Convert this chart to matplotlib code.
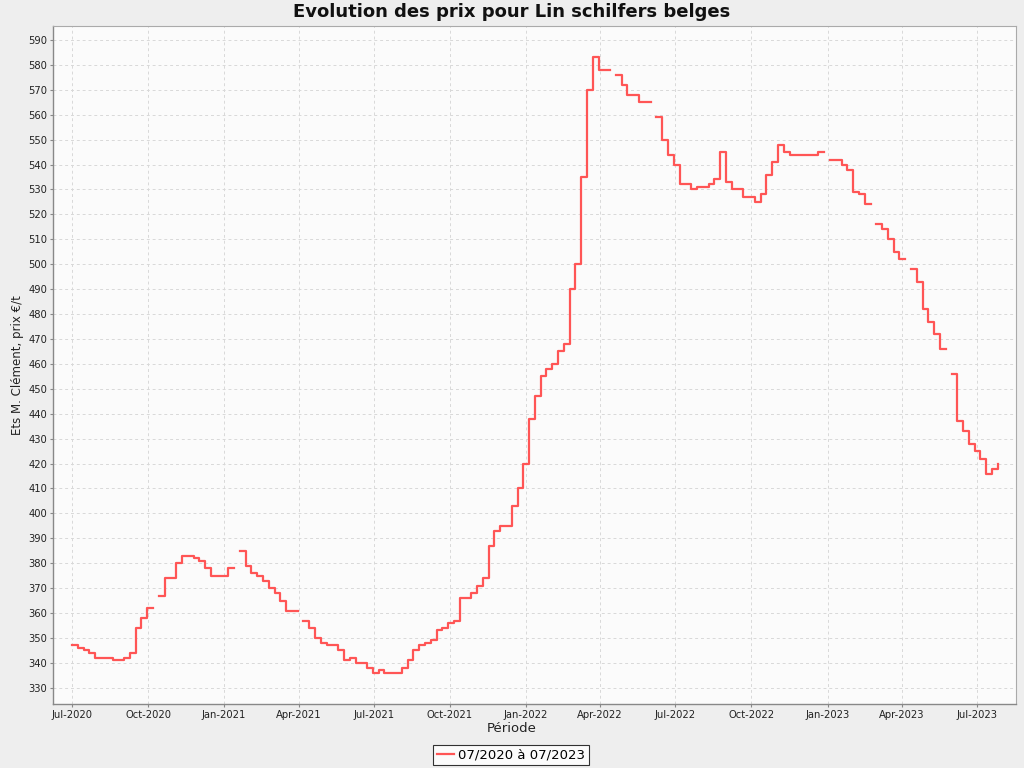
import numpy as np
import pandas as pd
import matplotlib
matplotlib.use("Agg")
import matplotlib.pyplot as plt
import matplotlib.dates as mdates

nan = np.nan

# Weekly dates (starting 1 Jul 2020)
dates = pd.date_range("2020-07-01", periods=161, freq="7D")

prices = [
    347, 346, 345, 344, 342, 342, 342, 341, 341, 342,   # w0-9
    344, 354, 358, 362, nan, 367, 374, 374, 380, 383,   # w10-19
    383, 382, 381, 378, 375, 375, 375, 378, nan, 385,   # w20-29
    379, 376, 375, 373, 370, 368, 365, 361, 361, nan,   # w30-39
    357, 354, 350, 348, 347, 347, 345, 341, 342, 340,   # w40-49
    340, 338, 336, 337, 336, 336, 336, 338, 341, 345,   # w50-59
    347, 348, 349, 353, 354, 356, 357, 366, 366, 368,   # w60-69
    371, 374, 387, 393, 395, 395, 403, 410, 420, 438,   # w70-79
    447, 455, 458, 460, 465, 468, 490, 500, 535, 570,   # w80-89
    583, 578, 578, nan, 576, 572, 568, 568, 565, 565,   # w90-99
    nan, 559, 550, 544, 540, 532, 532, 530, 531, 531,   # w100-109
    532, 534, 545, 533, 530, 530, 527, 527, 525, 528,   # w110-119
    536, 541, 548, 545, 544, 544, 544, 544, 544, 545,   # w120-129
    nan, 542, 542, 540, 538, 529, 528, 524, nan, 516,   # w130-139
    514, 510, 505, 502, nan, 498, 493, 482, 477, 472,   # w140-149
    466, nan, 456, 437, 433, 428, 425, 422, 416, 418,   # w150-159
    420,                                                # w160
]

series_label = "07/2020 à 07/2023"
title = "Evolution des prix pour Lin schilfers belges"
xlabel = "Période"
ylabel = "Ets M. Clément, prix €/t"

plt.rcParams["font.family"] = ["DejaVu Sans"]

fig = plt.figure(figsize=(10.24, 7.68), dpi=100, facecolor="#EEEEEE")
ax = fig.add_axes([53 / 1024, 1 - 704 / 768, (1016 - 53) / 1024, (704 - 26) / 768])
ax.set_facecolor("#FBFBFB")

line, = ax.plot(dates, prices, drawstyle="steps-post", color="#FF5555",
                linewidth=1.6, label=series_label)

ax.set_xlim(pd.Timestamp("2020-06-08"), pd.Timestamp("2023-08-17"))
ax.set_ylim(323.5, 595.6)
ax.set_yticks(np.arange(330, 591, 10))

ax.xaxis.set_major_locator(mdates.MonthLocator(bymonth=[1, 4, 7, 10]))
ax.xaxis.set_major_formatter(mdates.DateFormatter("%b-%Y"))

ax.tick_params(axis="both", labelsize=7.2, length=2, width=0.8, color="#888888",
               pad=2, labelcolor="#222222")
ax.grid(True, which="major", color="#D8D8D8", linestyle=(0, (3, 3)), linewidth=0.7)
ax.set_axisbelow(True)

for side in ["left", "bottom"]:
    ax.spines[side].set_color("#888888")
    ax.spines[side].set_linewidth(1.0)
for side in ["top", "right"]:
    ax.spines[side].set_color("#AAAAAA")
    ax.spines[side].set_linewidth(0.8)

fig.text(0.5, 1 - 12 / 768, title, ha="center", va="center",
         fontsize=13, fontweight="bold", color="#111111")
fig.text(0.5, 1 - 729 / 768, xlabel, ha="center", va="center", fontsize=9.5,
         color="#222222")
fig.text(18 / 1024, 1 - 365 / 768, ylabel, ha="center", va="center",
         rotation=90, fontsize=8.5, color="#222222")

leg = fig.legend(handles=[line], labels=[series_label], loc="center",
                 bbox_to_anchor=(511 / 1024, 1 - 755 / 768), fontsize=9.5,
                 frameon=True, fancybox=False, handlelength=1.3,
                 handletextpad=0.3, borderpad=0.3, borderaxespad=0)
leg.get_frame().set_edgecolor("#000000")
leg.get_frame().set_linewidth(0.8)
leg.get_frame().set_facecolor("#FFFFFF")

fig.savefig("out.png", dpi=100, facecolor=fig.get_facecolor())
